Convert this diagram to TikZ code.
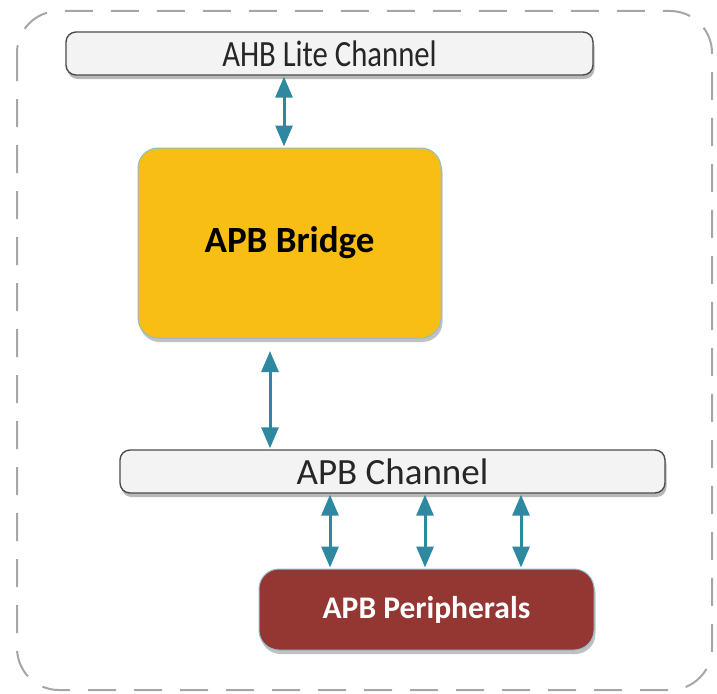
\documentclass[tikz,border=0pt]{standalone}
\usepackage{fontspec}
\setmainfont{Carlito}
\usetikzlibrary{arrows.meta,shadows}

\definecolor{linkteal}{RGB}{46,137,160}
\definecolor{bridgefill}{RGB}{249,190,20}
\definecolor{periphfill}{RGB}{148,54,50}
\definecolor{chanfill}{RGB}{243,243,243}

\tikzset{every picture/.style={line width=0.75pt}}
\tikzset{
	chanbox/.style={draw=black!70, line width=1.4pt, fill=chanfill, rounded corners=10pt, inner sep=0pt,
		drop shadow={shadow xshift=1.5pt, shadow yshift=-4pt, fill=black!35, opacity=0.8},
		font=\fontsize{37}{42}\selectfont, text=black!85},
	bigbox/.style={draw=linkteal!55, line width=1pt, rounded corners=20pt, inner sep=0pt,
		drop shadow={shadow xshift=1.5pt, shadow yshift=-4pt, fill=black!30, opacity=0.8},
		font=\bfseries},
	link/.style={draw=linkteal, line width=3pt, {Triangle[width=17pt,length=21pt]}-{Triangle[width=17pt,length=21pt]}, shorten <=1pt, shorten >=1pt}
}

\begin{document}
\begin{tikzpicture}[x=1pt,y=-1pt]
	\useasboundingbox (0,0) rectangle (717,693);
	
	%Shape: outer dashed frame
	\draw [draw=black!35, line width=2pt, dash pattern=on 28pt off 18pt, rounded corners=42pt] (17,11) rectangle (712,690);
	
	% Text Node
	\node [chanbox, minimum width=527pt, minimum height=43pt] (ahb) at (329.5,53.5) {\scalebox{0.83}[1]{AHB Lite Channel}};
	% Text Node
	\node [bigbox, fill=bridgefill, minimum width=303pt, minimum height=190pt, font=\fontsize{37}{44}\selectfont\bfseries] (bridge) at (289.5,243) {APB Bridge};
	% Text Node
	\node [chanbox, minimum width=545pt, minimum height=43pt] (apb) at (392.5,471.5) {APB Channel};
	% Text Node
	\node [bigbox, fill=periphfill, text=white, minimum width=335pt, minimum height=81pt, font=\fontsize{31.5}{36}\selectfont\bfseries] (periph) at (426.5,609.5) {APB Peripherals};
	
	%Straight Lines: bus links
	\draw [link] (ahb.south -| 284,0) -- (bridge.north -| 284,0);
	\coordinate (bridgelow) at (270,350);
	\draw [link] (bridgelow) -- (apb.north -| bridgelow);
	\foreach \px in {330,425,521}{
		\draw [link] (apb.south -| \px,0) -- (periph.north -| \px,0);
	}
	
\end{tikzpicture}
\end{document}
